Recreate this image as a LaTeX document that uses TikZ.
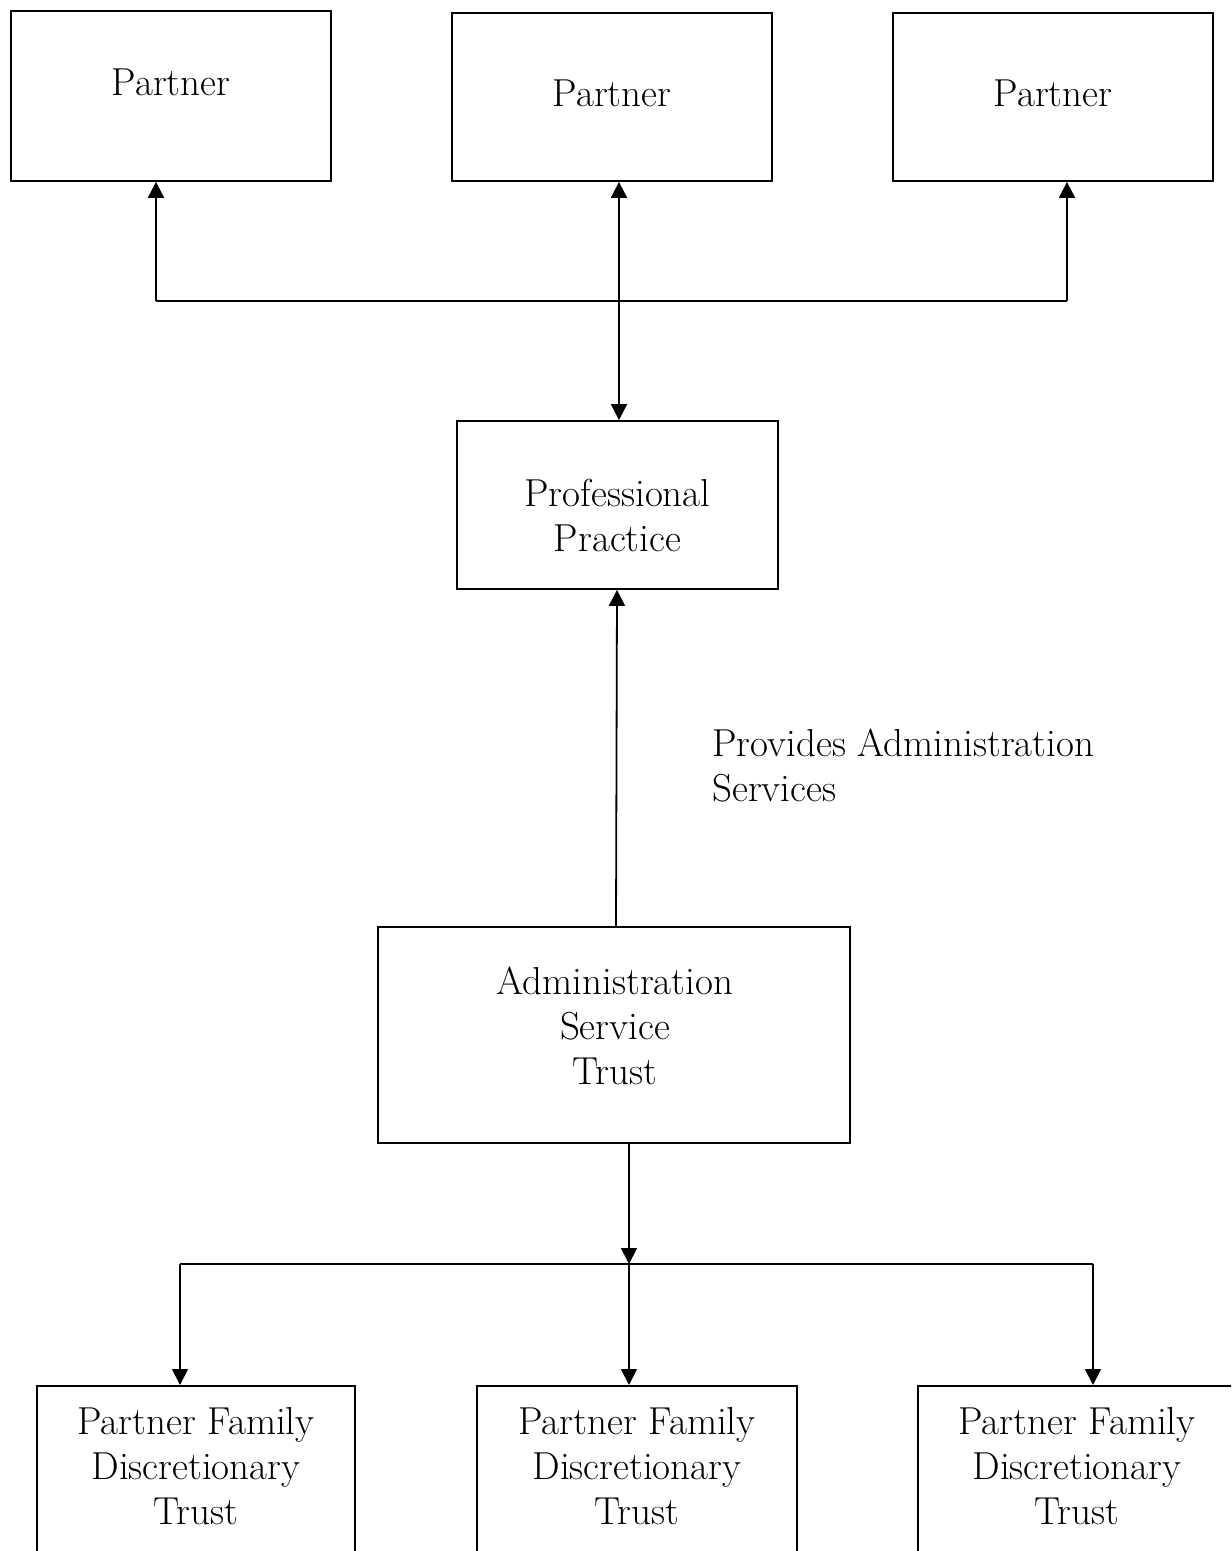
\documentclass[tikz,border=0pt]{standalone}
\usetikzlibrary{arrows.meta}
\begin{document}
\begin{tikzpicture}[x=0.5pt,y=-0.5pt,
  box/.style={draw,line width=0.9pt,inner sep=0pt},
  txt/.style={align=center,inner sep=0pt,font=\fontsize{19.5}{22.5}\selectfont},
  conn/.style={line width=0.9pt},
  arr/.style={line width=0.9pt,-{Triangle[length=8pt,width=8pt]}},
  darr/.style={line width=0.9pt,{Triangle[length=8pt,width=8pt]}-{Triangle[length=8pt,width=8pt]}}]
\useasboundingbox (0,0) rectangle (1231,1551);
\clip (0,0) rectangle (1231,1551);
% top partner boxes
\node[box,minimum width=160pt,minimum height=85pt] (p1) at (171,96) {};
\node[box,minimum width=160pt,minimum height=84pt] (p2) at (612,97) {};
\node[box,minimum width=160pt,minimum height=84pt] (p3) at (1053,97) {};
\node[txt] (p1t) at (171,82) {Partner};
\node[txt] (p2t) at (612,93) {Partner};
\node[txt] (p3t) at (1053,93) {Partner};
% professional practice
\node[box,minimum width=160.5pt,minimum height=84pt] (pp) at (617.5,505) {};
\node[txt] (ppt) at (617.5,515) {Professional\\Practice};
% admin service trust
\node[box,minimum width=236pt,minimum height=108pt] (adm) at (614,1035) {};
\node[txt] (admt) at (615,1026) {Administration\\Service\\Trust};
% label
\node[txt,align=left,anchor=west] (lbl) at (712,766) {Provides Administration\\Services};
% bottom boxes (cut off by the page edge)
\node[box,minimum width=159pt,minimum height=150pt,anchor=north] (b1) at (196,1385) {};
\node[box,minimum width=160pt,minimum height=150pt,anchor=north] (b2) at (637,1385) {};
\node[box,minimum width=161pt,minimum height=150pt,anchor=north] (b3) at (1079,1385) {};
\node[txt] (b1t) at (196,1466) {Partner Family\\Discretionary\\Trust};
\node[txt] (b2t) at (637,1466) {Partner Family\\Discretionary\\Trust};
\node[txt] (b3t) at (1077,1466) {Partner Family\\Discretionary\\Trust};
% top connectors
\coordinate (hL) at (156,301);
\coordinate (hR) at (1067,301);
\draw[conn] (hL) -- (hR);
\draw[arr] (hL) -- (hL |- p1.south);
\draw[arr] (hR) -- (hR |- p3.south);
\draw[darr] (p2.south -| 619,0) -- (pp.north -| 619,0);
% admin to practice
\draw[arr] (adm.north -| 616,0) -- (pp.south -| 617,0);
% admin to trusts
\coordinate (hub) at (629,1264);
\coordinate (gL) at (180,1264);
\coordinate (gR) at (1093,1264);
\draw[arr] (adm.south -| hub) -- (hub);
\draw[conn] (gL) -- (gR);
\draw[arr] (gL) -- (gL |- b1.north);
\draw[arr] (hub) -- (hub |- b2.north);
\draw[arr] (gR) -- (gR |- b3.north);
\end{tikzpicture}
\end{document}
